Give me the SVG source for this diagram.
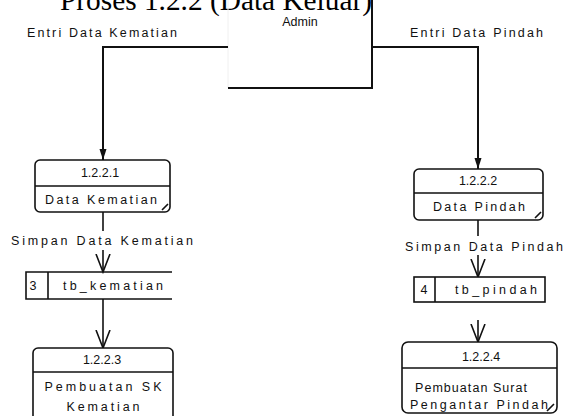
<svg xmlns="http://www.w3.org/2000/svg" width="565" height="416" viewBox="0 0 565 416">
<style>
.lbl{font-family:"Liberation Sans",Arial,sans-serif;font-size:12.5px;fill:#111}
.c{text-anchor:middle}
.box{fill:#fff;stroke:#111;stroke-width:1.6}
.ln{fill:none;stroke:#111;stroke-width:1.6}
.flow{fill:none;stroke:#111;stroke-width:2}
.title{font-family:"Liberation Serif","Times New Roman",serif;font-size:29px;fill:#000}
</style>
<defs>
<marker id="fa" markerUnits="userSpaceOnUse" markerWidth="12" markerHeight="8" refX="11" refY="4" orient="auto">
<path d="M0,0.5 L11,4 L0,7.5 z" fill="#111"/>
</marker>
<marker id="va" markerUnits="userSpaceOnUse" markerWidth="20" markerHeight="16" refX="18" refY="8" orient="auto">
<path d="M0,1 L18,8 L0,15" fill="none" stroke="#111" stroke-width="1.6"/>
</marker>
</defs>
<rect width="565" height="416" fill="#fff"/>
<text class="title" x="60" y="10" textLength="312" lengthAdjust="spacingAndGlyphs">Proses 1.2.2 (Data Keluar)</text>

<g id="admin">
<path d="M228,-2 V88" fill="none" stroke="#f0f0f0" stroke-width="1"/>
<path d="M372,-2 V88 H228" class="flow"/>
<text class="lbl c" x="300" y="26">Admin</text>
</g>

<g id="connectors">
<path d="M228,47 H103 V160" class="flow" marker-end="url(#fa)"/>
<path d="M372,47 H478 V169" class="flow" marker-end="url(#fa)"/>
<path d="M103,212 V231" class="ln"/>
<path d="M103,250 V272" class="ln" marker-end="url(#va)"/>
<path d="M478,220 V236" class="ln"/>
<path d="M478,255 V277" class="ln" marker-end="url(#va)"/>
<path d="M103,299 V348" class="ln" marker-end="url(#va)"/>
<path d="M478,320 V342" class="ln" marker-end="url(#va)"/>
<text class="lbl" x="27" y="37" textLength="150" lengthAdjust="spacing">Entri Data Kematian</text>
<text class="lbl" x="410" y="37" textLength="133" lengthAdjust="spacing">Entri Data Pindah</text>
<text class="lbl" x="11" y="245" textLength="182" lengthAdjust="spacing">Simpan Data Kematian</text>
<text class="lbl" x="405" y="251" textLength="158" lengthAdjust="spacing">Simpan Data Pindah</text>
</g>

<g id="p1221">
<rect class="box" x="35" y="160" width="135" height="52" rx="5"/>
<path d="M35,186 H170 M162,210 L168,204" class="ln"/>
<text class="lbl c" x="100" y="177">1.2.2.1</text>
<text class="lbl c" x="101" y="204" textLength="112" lengthAdjust="spacing">Data Kematian</text>
</g>

<g id="p1222">
<rect class="box" x="414" y="169" width="129" height="51" rx="5"/>
<path d="M414,193 H543 M535,218 L541,212" class="ln"/>
<text class="lbl c" x="478" y="185">1.2.2.2</text>
<text class="lbl c" x="479" y="211" textLength="92" lengthAdjust="spacing">Data Pindah</text>
</g>

<g id="store3">
<path d="M172,272 H26 V299 H172 M48,272 V299" class="ln"/>
<text class="lbl c" x="33" y="290">3</text>
<text class="lbl c" x="113" y="290" textLength="100" lengthAdjust="spacing">tb_kematian</text>
</g>

<g id="store4">
<rect class="box" x="414" y="277" width="131" height="25"/>
<path d="M435,277 V302" class="ln"/>
<text class="lbl c" x="424" y="294">4</text>
<text class="lbl c" x="496" y="294" textLength="82" lengthAdjust="spacing">tb_pindah</text>
</g>

<g id="p1223">
<rect class="box" x="33" y="348" width="140" height="80" rx="5"/>
<path d="M33,372 H173" class="ln"/>
<text class="lbl c" x="102" y="364">1.2.2.3</text>
<text class="lbl c" x="103" y="391" textLength="117" lengthAdjust="spacing">Pembuatan SK</text>
<text class="lbl c" x="103" y="411" textLength="73" lengthAdjust="spacing">Kematian</text>
</g>

<g id="p1224">
<rect class="box" x="402" y="342" width="155" height="71" rx="6"/>
<path d="M402,368 H557 M547,411 L554,404" class="ln"/>
<text class="lbl c" x="481" y="361">1.2.2.4</text>
<text class="lbl c" x="471" y="392" textLength="112" lengthAdjust="spacing">Pembuatan Surat</text>
<text class="lbl c" x="479" y="409" textLength="138" lengthAdjust="spacing">Pengantar Pindah</text>
</g>
</svg>
